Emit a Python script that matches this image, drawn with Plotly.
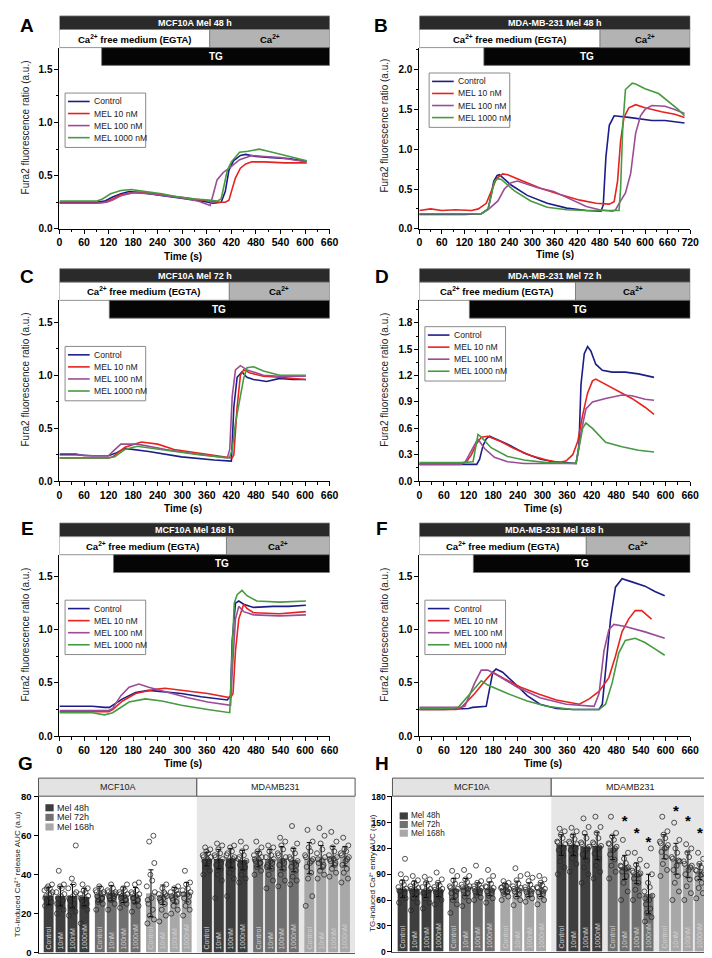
import plotly.graph_objects as go

W, H = 712, 958
FONT = "Liberation Sans, Arial, sans-serif"


def fx(p):
    return p / W


def fy(p):
    return 1 - p / H


NAMES = ["Control", "MEL 10 nM", "MEL 100 nM", "MEL 1000 nM"]
COLORS = ["#1d1d87", "#e6231f", "#9b4c97", "#469a41"]

# ---------------- Panel A : MCF10A Mel 48 h ----------------
a_ctrl_t = [0, 30, 60, 90, 110, 130, 150, 170, 200, 240, 280, 320, 350, 375, 395, 405, 414, 425, 442, 455, 480, 520, 560, 604]
a_ctrl_v = [0.25, 0.25, 0.25, 0.25, 0.26, 0.30, 0.33, 0.35, 0.34, 0.32, 0.30, 0.28, 0.26, 0.24, 0.25, 0.35, 0.55, 0.64, 0.69, 0.70, 0.68, 0.67, 0.66, 0.635]
a_m10_t = [0, 30, 60, 90, 110, 130, 150, 180, 210, 250, 290, 330, 360, 390, 405, 414, 420, 430, 442, 455, 470, 500, 550, 604]
a_m10_v = [0.24, 0.24, 0.24, 0.24, 0.25, 0.28, 0.32, 0.34, 0.34, 0.32, 0.30, 0.28, 0.26, 0.25, 0.25, 0.27, 0.35, 0.48, 0.57, 0.61, 0.63, 0.63, 0.62, 0.62]
a_m100_t = [0, 30, 60, 90, 115, 130, 150, 180, 220, 260, 300, 340, 360, 368, 376, 385, 400, 418, 440, 470, 500, 540, 570, 604]
a_m100_v = [0.24, 0.24, 0.24, 0.24, 0.25, 0.27, 0.31, 0.34, 0.33, 0.31, 0.29, 0.26, 0.23, 0.22, 0.33, 0.46, 0.53, 0.58, 0.65, 0.69, 0.68, 0.67, 0.65, 0.63]
a_m1000_t = [0, 30, 60, 90, 105, 125, 150, 175, 210, 250, 290, 330, 365, 385, 395, 402, 410, 420, 440, 460, 488, 510, 540, 570, 604]
a_m1000_v = [0.26, 0.26, 0.26, 0.26, 0.28, 0.33, 0.36, 0.37, 0.35, 0.33, 0.30, 0.28, 0.27, 0.26, 0.28, 0.42, 0.55, 0.63, 0.72, 0.73, 0.75, 0.73, 0.70, 0.67, 0.64]

# ---------------- Panel B : MDA-MB-231 Mel 48 h ----------------
b_ctrl_t = [0, 40, 80, 120, 165, 183, 192, 198, 207, 213, 244, 287, 340, 392, 444, 483, 489, 496, 505, 518, 557, 592, 618, 653, 705]
b_ctrl_v = [0.18, 0.18, 0.18, 0.18, 0.19, 0.25, 0.45, 0.60, 0.67, 0.68, 0.55, 0.42, 0.32, 0.26, 0.23, 0.22, 0.30, 0.90, 1.30, 1.42, 1.40, 1.38, 1.36, 1.36, 1.33]
b_m10_t = [0, 30, 60, 96, 139, 157, 178, 192, 205, 222, 235, 270, 322, 374, 427, 470, 505, 518, 527, 535, 544, 557, 575, 600, 644, 679, 705]
b_m10_v = [0.23, 0.25, 0.23, 0.24, 0.23, 0.25, 0.32, 0.48, 0.63, 0.69, 0.68, 0.61, 0.51, 0.43, 0.36, 0.32, 0.31, 0.34, 0.60, 1.10, 1.40, 1.52, 1.56, 1.52, 1.47, 1.44, 1.40]
b_m100_t = [0, 60, 120, 165, 183, 209, 226, 244, 261, 313, 357, 400, 444, 479, 514, 522, 531, 548, 562, 575, 588, 600, 618, 653, 679, 705]
b_m100_v = [0.19, 0.19, 0.19, 0.19, 0.24, 0.35, 0.50, 0.58, 0.60, 0.52, 0.47, 0.38, 0.28, 0.24, 0.22, 0.24, 0.32, 0.45, 0.70, 1.20, 1.42, 1.50, 1.55, 1.54, 1.50, 1.45]
b_m1000_t = [0, 60, 120, 165, 183, 192, 200, 209, 218, 252, 296, 340, 392, 444, 531, 535, 541, 548, 566, 575, 600, 636, 662, 688, 705]
b_m1000_v = [0.19, 0.19, 0.19, 0.19, 0.25, 0.45, 0.60, 0.63, 0.62, 0.48, 0.35, 0.27, 0.24, 0.23, 0.23, 0.50, 1.30, 1.75, 1.83, 1.82, 1.76, 1.70, 1.60, 1.50, 1.42]

# ---------------- Panel C : MCF10A Mel 72 h ----------------
c_ctrl_t = [0, 40, 80, 120, 140, 160, 218, 298, 378, 420, 426, 434, 446, 458, 474, 506, 538, 570, 602]
c_ctrl_v = [0.25, 0.25, 0.24, 0.24, 0.27, 0.31, 0.28, 0.23, 0.20, 0.19, 0.70, 0.98, 1.03, 0.98, 0.96, 0.94, 0.97, 0.96, 0.96]
c_m10_t = [0, 40, 80, 120, 130, 160, 200, 240, 280, 350, 410, 422, 426, 434, 442, 450, 466, 498, 538, 570, 602]
c_m10_v = [0.22, 0.22, 0.22, 0.22, 0.23, 0.32, 0.37, 0.35, 0.30, 0.26, 0.22, 0.22, 0.25, 0.70, 1.00, 1.05, 1.02, 0.99, 0.98, 0.97, 0.96]
c_m100_t = [0, 40, 60, 100, 120, 130, 150, 190, 260, 330, 410, 416, 422, 430, 442, 458, 498, 538, 570, 602]
c_m100_v = [0.26, 0.26, 0.24, 0.24, 0.24, 0.28, 0.35, 0.35, 0.30, 0.26, 0.22, 0.30, 0.80, 1.05, 1.09, 1.05, 1.00, 0.99, 0.99, 0.99]
c_m1000_t = [0, 40, 80, 120, 135, 160, 190, 260, 340, 415, 422, 430, 442, 450, 458, 474, 498, 538, 570, 602]
c_m1000_v = [0.22, 0.22, 0.22, 0.22, 0.23, 0.30, 0.33, 0.29, 0.25, 0.22, 0.30, 0.55, 0.80, 0.97, 1.07, 1.08, 1.04, 1.00, 1.00, 1.00]

# ---------------- Panel D : MDA-MB-231 Mel 72 h ----------------
d_ctrl_t = [0, 50, 100, 140, 147, 155, 163, 171, 215, 255, 294, 326, 358, 382, 389, 394, 402, 410, 418, 430, 446, 470, 502, 534, 572]
d_ctrl_v = [0.19, 0.19, 0.19, 0.19, 0.25, 0.40, 0.48, 0.51, 0.42, 0.32, 0.25, 0.22, 0.21, 0.20, 0.40, 1.10, 1.45, 1.53, 1.48, 1.33, 1.26, 1.24, 1.24, 1.22, 1.18]
d_m10_t = [0, 50, 100, 115, 127, 139, 151, 167, 199, 231, 271, 310, 342, 358, 374, 386, 398, 410, 422, 430, 454, 486, 518, 550, 572]
d_m10_v = [0.20, 0.20, 0.20, 0.22, 0.30, 0.42, 0.50, 0.51, 0.45, 0.37, 0.29, 0.24, 0.21, 0.23, 0.30, 0.45, 0.75, 1.00, 1.14, 1.16, 1.10, 1.02, 0.94, 0.84, 0.76]
d_m100_t = [0, 50, 100, 111, 127, 139, 144, 159, 183, 215, 255, 382, 386, 394, 406, 422, 454, 494, 518, 550, 572]
d_m100_v = [0.19, 0.19, 0.19, 0.21, 0.35, 0.45, 0.47, 0.37, 0.27, 0.22, 0.20, 0.20, 0.30, 0.55, 0.82, 0.90, 0.94, 0.98, 0.97, 0.93, 0.92]
d_m1000_t = [0, 50, 100, 131, 139, 143, 151, 175, 215, 255, 310, 382, 390, 398, 406, 422, 454, 494, 534, 572]
d_m1000_v = [0.21, 0.21, 0.21, 0.22, 0.45, 0.53, 0.50, 0.38, 0.28, 0.24, 0.21, 0.20, 0.40, 0.60, 0.66, 0.60, 0.44, 0.39, 0.35, 0.33]

# ---------------- Panel E : MCF10A Mel 168 h ----------------
e_ctrl_t = [0, 40, 80, 110, 122, 154, 186, 218, 250, 298, 346, 410, 418, 422, 430, 438, 450, 474, 522, 560, 602]
e_ctrl_v = [0.28, 0.28, 0.28, 0.27, 0.27, 0.35, 0.41, 0.43, 0.42, 0.40, 0.37, 0.34, 0.38, 0.90, 1.25, 1.27, 1.24, 1.21, 1.22, 1.22, 1.23]
e_m10_t = [0, 40, 80, 120, 130, 154, 186, 234, 258, 298, 362, 418, 424, 430, 438, 450, 458, 474, 538, 602]
e_m10_v = [0.23, 0.23, 0.23, 0.23, 0.25, 0.33, 0.40, 0.44, 0.45, 0.43, 0.40, 0.36, 0.40, 0.80, 1.10, 1.24, 1.20, 1.16, 1.15, 1.17]
e_m100_t = [0, 40, 80, 120, 130, 150, 170, 194, 218, 258, 314, 362, 418, 422, 430, 438, 450, 474, 538, 602]
e_m100_v = [0.24, 0.24, 0.24, 0.24, 0.26, 0.38, 0.46, 0.49, 0.46, 0.42, 0.36, 0.32, 0.29, 0.60, 1.10, 1.22, 1.17, 1.14, 1.13, 1.14]
e_m1000_t = [0, 40, 80, 110, 130, 170, 210, 250, 298, 362, 416, 422, 427, 434, 446, 458, 482, 538, 602]
e_m1000_v = [0.22, 0.22, 0.22, 0.20, 0.22, 0.32, 0.35, 0.33, 0.29, 0.25, 0.22, 0.80, 1.25, 1.33, 1.37, 1.32, 1.27, 1.26, 1.27]

# ---------------- Panel F : MDA-MB-231 Mel 168 h ----------------
f_ctrl_t = [0, 60, 120, 130, 163, 171, 179, 187, 203, 231, 263, 294, 334, 374, 438, 446, 454, 466, 478, 494, 518, 550, 574, 598]
f_ctrl_v = [0.25, 0.25, 0.26, 0.27, 0.28, 0.45, 0.60, 0.63, 0.60, 0.50, 0.38, 0.30, 0.26, 0.25, 0.25, 0.30, 0.60, 1.10, 1.40, 1.48, 1.45, 1.41, 1.36, 1.32]
f_m10_t = [0, 60, 90, 103, 135, 167, 179, 207, 247, 294, 334, 390, 414, 438, 462, 478, 494, 510, 526, 542, 566]
f_m10_v = [0.25, 0.25, 0.25, 0.27, 0.40, 0.55, 0.60, 0.54, 0.46, 0.39, 0.34, 0.30, 0.35, 0.42, 0.55, 0.75, 0.98, 1.10, 1.18, 1.18, 1.10]
f_m100_t = [0, 60, 100, 111, 135, 151, 167, 191, 239, 294, 358, 426, 438, 450, 462, 474, 502, 550, 598]
f_m100_v = [0.27, 0.27, 0.27, 0.28, 0.50, 0.62, 0.62, 0.57, 0.46, 0.36, 0.30, 0.28, 0.40, 0.80, 1.00, 1.05, 1.03, 0.98, 0.92]
f_m1000_t = [0, 60, 95, 119, 151, 167, 215, 263, 310, 374, 438, 454, 470, 486, 502, 526, 550, 574, 598]
f_m1000_v = [0.26, 0.26, 0.27, 0.38, 0.52, 0.48, 0.40, 0.33, 0.28, 0.25, 0.25, 0.30, 0.50, 0.78, 0.90, 0.92, 0.88, 0.82, 0.76]

# ---------------- Panels G / H : AUC bar charts ----------------
CONC = ["Control", "10nM", "100nM", "1000nM"]
TIMES = ["Mel 48h", "Mel 72h", "Mel 168h"]
CELLS = ["MCF10A", "MDAMB231"]
BAR_COLORS = ["#3e3e3e", "#707070", "#a8a8a8"]

# G: TG-induced Ca2+ release AUC   [cell][time][conc]
g_mean = [
    [[29, 29, 29, 28.5], [30, 30.5, 29.7, 29.4], [30.5, 29.7, 29.4, 31]],
    [[48, 48, 48.5, 47.5], [48, 48, 48.5, 47.5], [48.5, 49, 49.5, 49.5]],
]
g_sd = [
    [[4.5, 5, 6, 4.5], [4, 4, 4, 4], [12, 5, 4, 5]],
    [[3.5, 5, 5, 5], [4, 5, 6, 6], [8, 6, 5, 5]],
]
g_dots = [
    [
        [[24, 26, 27, 28, 29, 30, 31, 32, 33, 34, 35, 33, 30, 28],
         [20, 22, 24, 26, 28, 29, 30, 31, 33, 34, 35, 42, 27, 25],
         [19, 21, 23, 25, 27, 29, 31, 33, 35, 38, 55, 24, 30, 28],
         [15, 22, 24, 26, 27, 28, 29, 30, 31, 32, 33, 35, 25, 28]],
        [[22, 25, 27, 28, 29, 30, 31, 32, 33, 34, 30, 26, 28, 31],
         [22, 25, 27, 28, 29, 30, 31, 32, 33, 35, 30, 28, 29, 31],
         [23, 25, 26, 27, 28, 29, 30, 31, 32, 33, 35, 29, 27, 30],
         [21, 24, 26, 27, 28, 29, 30, 31, 32, 35, 36, 28, 27, 30]],
        [[15, 17, 19, 22, 25, 28, 31, 34, 37, 40, 46, 57, 60, 27],
         [16, 19, 22, 25, 27, 28, 29, 30, 31, 33, 35, 26, 30, 28],
         [20, 22, 24, 26, 28, 29, 30, 31, 32, 33, 34, 27, 30, 29],
         [19, 22, 24, 26, 28, 30, 31, 32, 33, 35, 36, 42, 29, 30]],
    ],
    [
        [[40, 42, 44, 46, 47, 48, 49, 50, 51, 52, 53, 54, 47, 49],
         [28, 37, 40, 43, 45, 47, 48, 50, 51, 53, 55, 56, 46, 49],
         [29, 38, 41, 43, 45, 47, 49, 50, 52, 54, 55, 46, 48, 51],
         [36, 38, 40, 43, 45, 46, 47, 48, 50, 52, 54, 57, 44, 49]],
        [[40, 42, 44, 46, 47, 48, 49, 50, 51, 52, 54, 57, 46, 48],
         [33, 37, 40, 43, 45, 47, 48, 49, 50, 52, 54, 55, 46, 44],
         [34, 37, 40, 43, 45, 47, 49, 51, 53, 55, 57, 59, 46, 50],
         [35, 37, 39, 42, 44, 46, 47, 49, 51, 53, 56, 65, 45, 48]],
        [[24, 29, 38, 41, 44, 46, 48, 50, 52, 54, 57, 63, 47, 49],
         [38, 40, 42, 44, 46, 47, 49, 51, 53, 56, 60, 64, 45, 48],
         [39, 41, 43, 45, 47, 48, 49, 50, 52, 54, 57, 62, 46, 48],
         [36, 38, 41, 43, 45, 47, 49, 51, 52, 53, 55, 59, 48, 50]],
    ],
]

# H: TG-induced Ca2+ entry AUC   [cell][time][conc]
h_mean = [
    [[73, 73, 72, 72], [73, 75, 73, 73], [73, 73, 72, 72]],
    [[124, 124, 122, 123], [121, 98, 91, 67], [122, 108, 101, 93]],
]
h_sd = [
    [[10, 9, 9, 8], [12, 10, 7, 8], [6, 9, 8, 8]],
    [[12, 12, 14, 16], [14, 14, 12, 23], [14, 18, 15, 9]],
]
h_dots = [
    [
        [[57, 62, 65, 68, 70, 72, 73, 75, 78, 81, 85, 90, 108, 71],
         [48, 57, 62, 66, 70, 72, 74, 76, 78, 80, 83, 88, 68, 73],
         [50, 57, 62, 66, 69, 71, 73, 75, 77, 80, 84, 87, 70, 68],
         [55, 60, 64, 67, 69, 71, 73, 75, 77, 80, 84, 92, 70, 72]],
        [[45, 55, 60, 65, 68, 71, 73, 76, 79, 83, 88, 94, 70, 74],
         [53, 59, 64, 68, 71, 74, 76, 78, 81, 84, 88, 95, 73, 75],
         [60, 63, 66, 68, 70, 72, 74, 76, 78, 80, 82, 100, 71, 73],
         [57, 62, 65, 68, 70, 72, 74, 76, 79, 83, 88, 95, 71, 75]],
        [[60, 64, 67, 69, 71, 72, 73, 74, 76, 78, 80, 82, 70, 75],
         [54, 60, 64, 67, 70, 72, 74, 76, 79, 83, 88, 97, 71, 73],
         [58, 62, 65, 67, 69, 71, 73, 75, 78, 82, 86, 90, 70, 72],
         [55, 60, 64, 67, 69, 71, 73, 75, 77, 80, 84, 88, 70, 74]],
    ],
    [
        [[90, 98, 105, 112, 118, 122, 125, 128, 132, 136, 140, 143, 120, 127],
         [93, 102, 108, 113, 118, 122, 125, 128, 131, 135, 140, 144, 120, 126],
         [80, 90, 98, 106, 113, 118, 122, 127, 132, 138, 145, 155, 120, 125],
         [85, 93, 100, 108, 114, 119, 123, 127, 132, 138, 145, 157, 121, 125]],
        [[85, 93, 100, 107, 113, 118, 122, 126, 130, 134, 138, 157, 120, 125],
         [60, 70, 80, 88, 93, 96, 98, 100, 103, 108, 115, 130, 97, 99],
         [60, 65, 72, 80, 85, 89, 91, 94, 97, 101, 107, 115, 90, 92],
         [35, 40, 45, 50, 55, 60, 65, 70, 75, 80, 90, 100, 120, 62]],
        [[88, 95, 102, 110, 116, 120, 124, 128, 132, 136, 140, 157, 121, 126],
         [60, 70, 80, 88, 95, 100, 105, 110, 115, 120, 130, 150, 106, 108],
         [60, 68, 76, 84, 90, 95, 100, 105, 110, 115, 120, 125, 98, 102],
         [62, 68, 74, 80, 85, 89, 92, 95, 98, 102, 108, 115, 90, 94]],
    ],
]
# significance marks (cell, time, conc, y)
h_sig = [(1, 1, 1, 151), (1, 1, 2, 137), (1, 1, 3, 126), (1, 2, 1, 162), (1, 2, 2, 150), (1, 2, 3, 136)]

# ---------------------------------------------------------------
fig = go.Figure()
shapes = []
annots = []
layout_axes = {}


def ids(n):
    return ("x" if n == 1 else f"x{n}"), ("y" if n == 1 else f"y{n}")


def lkeys(n):
    return ("xaxis" if n == 1 else f"xaxis{n}"), ("yaxis" if n == 1 else f"yaxis{n}")


def text(x, y, s, size=10, color="black", bold=False, xref="paper", yref="paper", xanchor="center", angle=0):
    annots.append(dict(x=x, y=y, xref=xref, yref=yref, text=s, showarrow=False, xanchor=xanchor,
                       yanchor="middle", textangle=angle,
                       font=dict(family=FONT, size=size, color=color, weight="bold" if bold else "normal")))


def tickfont(size):
    return dict(family=FONT, size=size, color="black", weight="bold")


PANELS = [
    dict(n=1, letter="A", lpos=(16.7, 13), title="MCF10A Mel 48 h", xl=49.3, xr=324.3, xmax=660, y0=218.3, ppu=107.5,
         top=35.0, dy=0.5, ca=367, tg=103, leg=(55, 81), tl=(175, 246), yl=(15, 116),
         series=[(a_ctrl_t, a_ctrl_v), (a_m10_t, a_m10_v), (a_m100_t, a_m100_v), (a_m1000_t, a_m1000_v)]),
    dict(n=2, letter="B", lpos=(376.5, 13), title="MDA-MB-231 Mel 48 h", xl=415.3, xr=691.0, xmax=720, y0=218.3, ppu=80.5,
         top=35.0, dy=0.5, ca=480.5, tg=171.6, leg=(425.3, 60.7), tl=(553.5, 244), yl=(380.3, 114),
         series=[(b_ctrl_t, b_ctrl_v), (b_m10_t, b_m10_v), (b_m100_t, b_m100_v), (b_m1000_t, b_m1000_v)]),
    dict(n=3, letter="C", lpos=(16.7, 266.5), title="MCF10A Mel 72 h", xl=49.3, xr=324.3, xmax=660, y0=473.7, ppu=107.3,
         top=290.7, dy=0.5, ca=415, tg=121.7, leg=(55, 337.3), tl=(175, 501.7), yl=(15, 371),
         series=[(c_ctrl_t, c_ctrl_v), (c_m10_t, c_m10_v), (c_m100_t, c_m100_v), (c_m1000_t, c_m1000_v)]),
    dict(n=4, letter="D", lpos=(377, 266.5), title="MDA-MB-231 Mel 72 h", xl=415.3, xr=691.0, xmax=660, y0=473.5, ppu=88.9,
         top=290.7, dy=0.3, ca=380.6, tg=122, leg=(421, 317.3), tl=(541, 501.7), yl=(380.3, 371),
         series=[(d_ctrl_t, d_ctrl_v), (d_m10_t, d_m10_v), (d_m100_t, d_m100_v), (d_m1000_t, d_m1000_v)]),
    dict(n=5, letter="E", lpos=(16.7, 521.5), title="MCF10A Mel 168 h", xl=49.3, xr=324.3, xmax=660, y0=731.5, ppu=107.6,
         top=548.0, dy=0.5, ca=408, tg=132, leg=(55, 594), tl=(175, 759), yl=(15, 629),
         series=[(e_ctrl_t, e_ctrl_v), (e_m10_t, e_m10_v), (e_m100_t, e_m100_v), (e_m1000_t, e_m1000_v)]),
    dict(n=6, letter="F", lpos=(377, 521.5), title="MDA-MB-231 Mel 168 h", xl=415.3, xr=691.0, xmax=660, y0=731.5, ppu=107.6,
         top=548.0, dy=0.5, ca=407, tg=131.7, leg=(421, 594), tl=(541, 759), yl=(380.3, 629),
         series=[(f_ctrl_t, f_ctrl_v), (f_m10_t, f_m10_v), (f_m100_t, f_m100_v), (f_m1000_t, f_m1000_v)]),
]

for P in PANELS:
    n = P["n"]
    xid, yid = ids(n)
    xk, yk = lkeys(n)
    ytop = (P["y0"] - P["top"]) / P["ppu"]
    layout_axes[xk] = dict(domain=[fx(P["xl"]), fx(P["xr"])], range=[0, P["xmax"] + 0.5], anchor=yid,
                           tick0=0, dtick=60, ticks="outside", ticklen=4, tickwidth=1, tickcolor="black",
                           minor=dict(dtick=30, tick0=0, ticks="outside", ticklen=2.5, tickwidth=1, tickcolor="black"),
                           showline=True, linecolor="black", linewidth=1, showgrid=False, zeroline=False,
                           tickfont=tickfont(10.5))
    layout_axes[yk] = dict(domain=[fy(P["y0"]), fy(P["top"])], range=[0, ytop], anchor=xid,
                           tick0=0, dtick=P["dy"], tickformat=".1f", ticks="outside", ticklen=4, tickwidth=1,
                           tickcolor="black",
                           minor=dict(dtick=P["dy"] / 2, tick0=0, ticks="outside", ticklen=2.5, tickwidth=1,
                                      tickcolor="black"),
                           showline=True, linecolor="black", linewidth=1, showgrid=False, zeroline=False,
                           tickfont=tickfont(10))
    for (t, v), name, col in zip(P["series"], NAMES, COLORS):
        fig.add_trace(go.Scatter(x=t, y=v, mode="lines", name=name, line=dict(color=col, width=1.6),
                                 xaxis=xid, yaxis=yid, showlegend=False))

    # header rows
    top = P["top"]
    rows = [
        (0, P["xmax"], top - 32, top - 18.3, "#2a2a2a", P["title"], "white", 9),
        (0, P["ca"], top - 18.3, top, "white", "Ca<sup>2+</sup> free medium (EGTA)", "black", 9.5),
        (P["ca"], P["xmax"], top - 18.3, top, "#b3b3b3", "Ca<sup>2+</sup>", "black", 9.5),
        (P["tg"], P["xmax"], top, top + 18, "#050505", "TG", "white", 10),
    ]
    for x0, x1, yt, yb, fill, label, tcol, tsize in rows:
        shapes.append(dict(type="rect", xref=xid, yref="paper", x0=x0, x1=x1, y0=fy(yb), y1=fy(yt),
                           fillcolor=fill, line=dict(color="#777777", width=0.8), layer="above"))
        text((x0 + x1) / 2, fy((yt + yb) / 2), label, size=tsize, color=tcol, bold=True, xref=xid)

    # legend box
    lx, ly = P["leg"]
    shapes.append(dict(type="rect", xref="paper", yref="paper", x0=fx(lx), x1=fx(lx + 82), y0=fy(ly + 55),
                       y1=fy(ly), fillcolor="white", line=dict(color="#8a8a8a", width=1), layer="above"))
    for i, (name, col) in enumerate(zip(NAMES, COLORS)):
        yy = ly + 8.5 + 12.2 * i
        shapes.append(dict(type="line", xref="paper", yref="paper", x0=fx(lx + 3), x1=fx(lx + 25), y0=fy(yy),
                           y1=fy(yy), line=dict(color=col, width=1.6), layer="above"))
        text(fx(lx + 27.5), fy(yy), name, size=8.6, color="#222222", xanchor="left")

    # axis titles & letter
    text(fx(P["tl"][0]), fy(P["tl"][1]), "Time (s)", size=10, bold=True)
    text(fx(P["yl"][0]), fy(P["yl"][1]), "Fura2 fluorescence ratio (a.u.)", size=10, color="#222222", angle=-90)
    text(fx(P["lpos"][0]), fy(P["lpos"][1]), P["letter"], size=19, bold=True)

# ---------------- bar panels ----------------
JIT = [-0.30, 0.25, -0.10, 0.15, -0.22, 0.05, 0.32, -0.35, 0.10, -0.05, 0.28, -0.15, 0.20, -0.28]


def pos(c, g, k):
    return c * 13.3 + g * 4.3 + k


BARPANELS = [
    dict(n=7, letter="G", lpos=(15, 759.5), xl=28, xr=350, y0=950.5, ymax=80, ppu=1.97, top=792.3, dy=20,
         mean=g_mean, sd=g_sd, dots=g_dots, ytitle="TG-induced Ca²⁺ release AUC (a.u)", tfs=9.5,
         yl=(7.5, 871), leg=(35, 804), legstep=9.7, legfs=9, mcf_fill="#e3e3e3", sig=[]),
    dict(n=8, letter="H", lpos=(377.5, 759.5), xl=388, xr=711, y0=949.5, ymax=180, ppu=0.8694, top=792.3, dy=30,
         mean=h_mean, sd=h_sd, dots=h_dots, ytitle="TG-induced Ca²⁺ entry AUC (a.u)", tfs=8.5,
         yl=(367, 870), leg=(395.3, 812.3), legstep=8.7, legfs=8.2, mcf_fill="#e3e3e3", sig=h_sig),
]

for P in BARPANELS:
    n = P["n"]
    xid, yid = ids(n)
    xk, yk = lkeys(n)
    ytop = (P["y0"] - P["top"]) / P["ppu"]
    layout_axes[xk] = dict(domain=[fx(P["xl"]), fx(P["xr"])], range=[-0.85, 25.75], anchor=yid,
                           showticklabels=False, ticks="", showgrid=False, zeroline=False,
                           showline=True, linecolor="#555555", linewidth=1)
    layout_axes[yk] = dict(domain=[fy(P["y0"]), fy(P["top"])], range=[0, ytop], anchor=xid,
                           tick0=0, dtick=P["dy"], ticks="outside", ticklen=4, tickwidth=1, tickcolor="black",
                           showline=True, linecolor="black", linewidth=1, showgrid=False, zeroline=False,
                           tickfont=tickfont(P["tfs"]))
    # shaded MDAMB231 region
    shapes.append(dict(type="rect", xref=xid, yref="paper", x0=12.45, x1=25.75, y0=fy(P["y0"]), y1=fy(P["top"]),
                       fillcolor="#e6e6e6", line=dict(width=0), layer="below"))
    for g in range(3):
        xs, ys, es, tx = [], [], [], []
        for c in range(2):
            for k in range(4):
                xs.append(pos(c, g, k))
                ys.append(P["mean"][c][g][k])
                es.append(P["sd"][c][g][k])
                tx.append(CONC[k])
        fig.add_trace(go.Bar(x=xs, y=ys, width=0.83, name=TIMES[g], marker=dict(color=BAR_COLORS[g], line=dict(width=0)),
                             error_y=dict(type="data", array=es, color="black", thickness=1, width=2.5),
                             text=tx, textposition="inside", insidetextanchor="start", textangle=-90,
                             constraintext="none", cliponaxis=False,
                             textfont=dict(family=FONT, size=7, color="#d0d0d0"),
                             xaxis=xid, yaxis=yid, showlegend=False))
    dx, dy = [], []
    for c in range(2):
        for g in range(3):
            for k in range(4):
                for i, v in enumerate(P["dots"][c][g][k]):
                    dx.append(pos(c, g, k) + JIT[i % len(JIT)])
                    dy.append(v)
    fig.add_trace(go.Scatter(x=dx, y=dy, mode="markers", xaxis=xid, yaxis=yid, showlegend=False,
                             marker=dict(symbol="circle-open", size=5, color="#2a2a2a", line=dict(width=0.8))))
    if P["sig"]:
        fig.add_trace(go.Scatter(x=[pos(c, g, k) for c, g, k, _ in P["sig"]], y=[y for *_, y in P["sig"]],
                                 mode="text", text=["*"] * len(P["sig"]), xaxis=xid, yaxis=yid, showlegend=False,
                                 textfont=dict(family=FONT, size=15, color="black", weight="bold")))
    # header cells
    split = fx(P["xl"] + (12.45 + 0.85) / 26.6 * (P["xr"] - P["xl"]))
    hy0, hy1 = fy(P["top"]), fy(P["top"] - 18.3)
    shapes.append(dict(type="rect", xref="paper", yref="paper", x0=fx(P["xl"]), x1=split, y0=hy0, y1=hy1,
                       fillcolor=P["mcf_fill"], line=dict(color="#555555", width=1), layer="above"))
    shapes.append(dict(type="rect", xref="paper", yref="paper", x0=split, x1=fx(P["xr"]), y0=hy0, y1=hy1,
                       fillcolor="white", line=dict(color="#555555", width=1), layer="above"))
    text((fx(P["xl"]) + split) / 2, (hy0 + hy1) / 2, CELLS[0], size=9, color="#222222")
    text((split + fx(P["xr"])) / 2, (hy0 + hy1) / 2, CELLS[1], size=9, color="#222222")
    # legend
    lx, ly = P["leg"]
    for g in range(3):
        yy = ly + P["legstep"] * g
        shapes.append(dict(type="rect", xref="paper", yref="paper", x0=fx(lx), x1=fx(lx + 8.4), y0=fy(yy + 3.6),
                           y1=fy(yy - 3.6), fillcolor=BAR_COLORS[g], line=dict(width=0), layer="above"))
        text(fx(lx + 10), fy(yy), TIMES[g], size=P["legfs"], color="#222222", xanchor="left")
    text(fx(P["yl"][0]), fy(P["yl"][1]), P["ytitle"], size=8, color="#222222", angle=-90)
    text(fx(P["lpos"][0]), fy(P["lpos"][1]), P["letter"], size=19, bold=True)

fig.update_layout(width=W, height=H, margin=dict(l=0, r=0, t=0, b=0), paper_bgcolor="white",
                  plot_bgcolor="rgba(0,0,0,0)", barmode="overlay", showlegend=False,
                  shapes=shapes, annotations=annots, font=dict(family=FONT), **layout_axes)
fig.write_html("out.html")
